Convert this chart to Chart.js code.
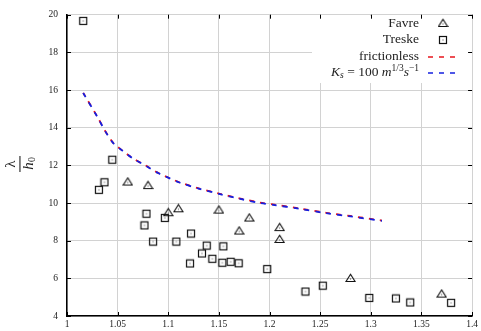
<!DOCTYPE html>
<html>
<head>
<meta charset="utf-8">
<script src="https://cdn.jsdelivr.net/npm/chart.js@4.4.1/dist/chart.umd.min.js"></script>
<style>
  html, body { margin: 0; padding: 0; background: #fff; }
  #wrap { width: 481px; height: 331px; }
</style>
</head>
<body>
<div id="wrap"><canvas id="chart" width="481" height="331"></canvas></div>
<script>
// --- data ---
var favreX = [1.060, 1.080, 1.100, 1.110, 1.150, 1.170, 1.180, 1.210, 1.210, 1.280, 1.370];
var favreY = [11.14, 10.95, 9.51, 9.72, 9.65, 8.54, 9.23, 8.72, 8.09, 6.02, 5.19];

var treskeX = [1.016, 1.0315, 1.037, 1.0447, 1.0765, 1.0785, 1.085, 1.0966, 1.108, 1.1215, 1.1225, 1.1333, 1.138,
               1.1435, 1.1534, 1.1544, 1.1616, 1.1695, 1.1977, 1.2355, 1.2526, 1.2985, 1.3248, 1.3389, 1.3793];
var treskeY = [19.67, 10.70, 11.10, 12.30, 8.81, 9.43, 7.95, 9.21, 7.95, 6.79, 8.38, 7.32, 7.74,
               7.04, 6.83, 7.70, 6.88, 6.80, 6.49, 5.30, 5.61, 4.96, 4.93, 4.72, 4.70];

var curveX = [1.016, 1.030, 1.038, 1.046, 1.054, 1.065, 1.079, 1.090, 1.101, 1.111, 1.130,
              1.151, 1.170, 1.190, 1.205, 1.230, 1.256, 1.280, 1.311];
var frictionlessY = [15.85, 14.58, 13.80, 13.17, 12.82, 12.38, 11.95, 11.60, 11.33, 11.10, 10.78,
                     10.49, 10.25, 10.03, 9.91, 9.71, 9.48, 9.31, 9.07];
var ksY = [15.84, 14.57, 13.79, 13.16, 12.81, 12.37, 11.94, 11.59, 11.32, 11.09, 10.77,
           10.47, 10.23, 10.01, 9.89, 9.69, 9.46, 9.29, 9.05];

var xTicks = [1, 1.05, 1.1, 1.15, 1.2, 1.25, 1.3, 1.35, 1.4];
var yTicks = [4, 6, 8, 10, 12, 14, 16, 18, 20];

function pts(xs, ys) {
  var out = [];
  for (let i = 0; i < xs.length; i++) out.push({x: xs[i], y: ys[i]});
  return out;
}

// marker images
function squareMarker() {
  var c = document.createElement('canvas');
  c.width = 10; c.height = 10;
  var g = c.getContext('2d');
  g.strokeStyle = '#111';
  g.lineWidth = 1.2;
  g.strokeRect(1.5, 1.5, 7, 7);
  g.fillStyle = '#444';
  g.fillRect(4.5, 4.5, 1, 1);
  return c;
}
function triangleMarker() {
  var c = document.createElement('canvas');
  c.width = 11; c.height = 10;
  var g = c.getContext('2d');
  g.strokeStyle = '#111';
  g.lineWidth = 1.1;
  g.beginPath();
  g.moveTo(5.5, 1.2); g.lineTo(10, 8.5); g.lineTo(1, 8.5); g.closePath();
  g.stroke();
  g.fillStyle = '#444';
  g.fillRect(5, 5.5, 1, 1);
  return c;
}
var sqImg = squareMarker();
var triImg = triangleMarker();

var serif = "'Liberation Serif', 'DejaVu Serif', serif";

// legend box, inner ticks and axis label
var extras = {
  id: 'extras',
  beforeDatasetsDraw(chart) {
    var ctx = chart.ctx, a = chart.chartArea;
    var sx = chart.scales.x, sy = chart.scales.y;
    ctx.save();
    // legend background hides the grid
    ctx.fillStyle = '#fff';
    ctx.fillRect(312, a.top + 1, a.right - 1 - 312, 82 - a.top);
    // inner tick marks
    ctx.strokeStyle = '#000';
    ctx.lineWidth = 1;
    ctx.beginPath();
    xTicks.forEach(function (v) {
      var px = Math.round(sx.getPixelForValue(v)) + 0.5;
      ctx.moveTo(px, a.top); ctx.lineTo(px, a.top + 4);
      ctx.moveTo(px, a.bottom); ctx.lineTo(px, a.bottom - 4);
    });
    yTicks.forEach(function (v) {
      var py = Math.round(sy.getPixelForValue(v)) + 0.5;
      ctx.moveTo(a.left, py); ctx.lineTo(a.left + 4, py);
      ctx.moveTo(a.right, py); ctx.lineTo(a.right - 4, py);
    });
    ctx.stroke();
    ctx.restore();
  },
  afterDraw(chart) {
    var ctx = chart.ctx;
    ctx.save();
    ctx.fillStyle = '#222';
    ctx.textBaseline = 'middle';
    ctx.textAlign = 'right';
    var tx = 419, mx = 443;
    ctx.font = '13.5px ' + serif;
    ctx.fillText('Favre', tx, 23);
    ctx.drawImage(triImg, mx - 5.5, 23 - 5);
    ctx.fillText('Treske', tx, 39);
    ctx.drawImage(sqImg, mx - 5, 40 - 5);
    ctx.fillText('frictionless', tx, 56);

    // K_s = 100 m^{1/3} s^{-1}
    var parts = [
      {t: 'K', f: 'italic 13.5px ', dy: 0},
      {t: 's', f: 'italic 9.5px ', dy: 3},
      {t: ' = 100 ', f: '13.5px ', dy: 0},
      {t: 'm', f: 'italic 13.5px ', dy: 0},
      {t: '1/3', f: '9.5px ', dy: -4},
      {t: 's', f: 'italic 13.5px ', dy: 0},
      {t: '\u22121', f: '9.5px ', dy: -4}
    ];
    var total = 0;
    parts.forEach(function (p) { ctx.font = p.f + serif; p.w = ctx.measureText(p.t).width; total += p.w; });
    ctx.textAlign = 'left';
    var cx = tx - total;
    parts.forEach(function (p) {
      ctx.font = p.f + serif;
      ctx.fillText(p.t, cx, 72 + p.dy);
      cx += p.w;
    });

    // dashed samples
    ctx.lineWidth = 1.5;
    ctx.setLineDash([5, 6]);
    ctx.strokeStyle = '#e8141c';
    ctx.beginPath(); ctx.moveTo(428, 57); ctx.lineTo(461, 57); ctx.stroke();
    ctx.strokeStyle = '#1420e0';
    ctx.beginPath(); ctx.moveTo(428, 73); ctx.lineTo(461, 73); ctx.stroke();
    ctx.setLineDash([]);

    // rotated fraction lambda / h_0
    ctx.translate(20, 164);
    ctx.rotate(-Math.PI / 2);
    ctx.textAlign = 'center';
    ctx.fillStyle = '#222';
    ctx.font = '15px ' + serif;
    ctx.fillText('\u03bb', 0, -9);
    ctx.fillRect(-8, -0.6, 16, 1.1);
    ctx.font = 'italic 15px ' + serif;
    ctx.fillText('h', -2, 9);
    ctx.font = '10px ' + serif;
    ctx.fillText('0', 4.5, 12);
    ctx.restore();
  }
};

var ctx = document.getElementById('chart').getContext('2d');
new Chart(ctx, {
  type: 'scatter',
  data: {
    datasets: [
      {
        label: 'Favre',
        data: pts(favreX, favreY),
        pointStyle: triImg,
        pointRadius: 5,
        order: 0
      },
      {
        label: 'Treske',
        data: pts(treskeX, treskeY),
        pointStyle: sqImg,
        pointRadius: 5,
        order: 0
      },
      {
        label: 'frictionless',
        type: 'line',
        data: pts(curveX, frictionlessY),
        borderColor: '#e8141c',
        borderWidth: 1.8,
        borderDash: [5, 6],
        borderDashOffset: 1,
        pointRadius: 0,
        tension: 0.3,
        fill: false,
        order: 2
      },
      {
        label: 'Ks',
        type: 'line',
        data: pts(curveX, ksY),
        borderColor: '#1420e0',
        borderWidth: 1.8,
        borderDash: [5, 6],
        pointRadius: 0,
        tension: 0.3,
        fill: false,
        order: 1
      }
    ]
  },
  options: {
    responsive: false,
    animation: false,
    layout: { padding: { left: 0, right: 8, top: 12, bottom: 0 } },
    plugins: { legend: { display: false }, tooltip: { enabled: false } },
    scales: {
      x: {
        type: 'linear',
        min: 1, max: 1.4,
        afterFit: function (s) { s.height = 15; },
        afterBuildTicks: function (s) { s.ticks = xTicks.map(function (v) { return {value: v}; }); },
        ticks: {
          padding: 3,
          color: '#222',
          font: { family: serif, size: 9.5 },
          callback: function (v) { return String(Number(v.toFixed(2))); }
        },
        grid: { color: '#d2d2d2', lineWidth: 1, drawTicks: false },
        border: { color: '#000', width: 1.5 }
      },
      y: {
        type: 'linear',
        min: 4, max: 20,
        afterFit: function (s) { s.width = 67; },
        afterBuildTicks: function (s) { s.ticks = yTicks.map(function (v) { return {value: v}; }); },
        ticks: {
          padding: 9,
          color: '#222',
          font: { family: serif, size: 9.5 }
        },
        grid: { color: '#d2d2d2', lineWidth: 1, drawTicks: false },
        border: { color: '#000', width: 1.5 }
      }
    }
  },
  plugins: [extras]
});
</script>
</body>
</html>
